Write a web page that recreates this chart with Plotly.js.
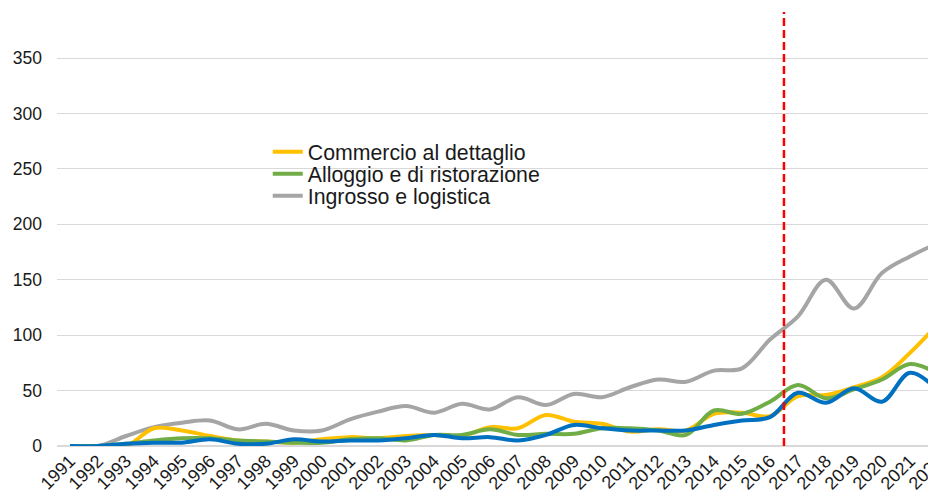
<!DOCTYPE html>
<html>
<head>
<meta charset="utf-8">
<script src="https://cdn.plot.ly/plotly-3.0.1.min.js"></script>
<style>
  html, body { margin: 0; padding: 0; overflow: hidden; background: #fff; }
  #chart { width: 960px; height: 497px; }
</style>
</head>
<body>
<div id="chart"></div>
<script>
const years = [1991,1992,1993,1994,1995,1996,1997,1998,1999,2000,2001,2002,2003,2004,2005,2006,2007,2008,2009,2010,2011,2012,2013,2014,2015,2016,2017,2018,2019,2020,2021,2022];
const yearLabels = years.map(String);

const commercio = [0,0,0,16,14,9,5,4,3,6,8,7,9,10,9,17,16,28,22,20,13,15,14,29,30,27,45,46,53,62,84,110];
const alloggio  = [0,0,2,5,7,7,5,4,3,3,6,7,5,10,10,15,10,11,11,16,16,14,10,32,29,40,55,43,51,60,74,65];
const ingrosso  = [0,0,9,17,21,23,15,20,14,14,24,31,36,30,38,33,44,37,47,44,53,60,58,68,70,96,117,150,124,156,171,183];
const altro     = [0,0,2,3,3,6,2,2,6,4,5,5,7,10,7,8,5,10,19,16,14,14,14,19,23,26,48,39,52,40,66,50];

const yTicks = [0,50,100,150,200,250,300,350];
const markerYear = 2016.5;

function line(name, y, color, legendId, show) {
  return {
    x: years, y: y, name: name, type: 'scatter', mode: 'lines',
    line: {color: color, width: 4, shape: 'spline', smoothing: 1},
    showlegend: show, legend: legendId, hoverinfo: 'x+y+name'
  };
}

const data = [
  line('Ingrosso e logistica', ingrosso, '#A5A5A5', 'legend3', true),
  line('Commercio al dettaglio', commercio, '#FFC000', 'legend', true),
  line('Alloggio e di ristorazione', alloggio, '#70AD47', 'legend2', true),
  line('Totale', altro, '#0070C0', 'legend', false)
];

const legendFont = {size: 21.3, color: '#1a1a1a', family: 'Liberation Sans, Arial, sans-serif'};
function legendAt(y) {
  return {x: 0.236, y: y, xanchor: 'left', yanchor: 'middle',
          bgcolor: 'rgba(0,0,0,0)', borderwidth: 0, font: legendFont};
}

const layout = {
  width: 960, height: 497,
  margin: {l: 57, r: 10, t: 12, b: 51},
  paper_bgcolor: '#fff', plot_bgcolor: '#fff',
  font: {family: 'Liberation Sans, Arial, sans-serif', color: '#1a1a1a'},
  showlegend: true,
  legend: legendAt(0.6774),
  legend2: legendAt(0.6267),
  legend3: legendAt(0.576),
  xaxis: {
    range: [1990.536, 2022.43],
    tickmode: 'array', tickvals: years, ticktext: yearLabels,
    tickangle: -45, tickfont: {size: 18},
    showgrid: false, zeroline: false, showline: false, ticks: ''
  },
  yaxis: {
    range: [0, 391.5],
    tickmode: 'array', tickvals: yTicks, ticktext: yTicks.map(String),
    tickfont: {size: 17.5},
    showgrid: true, gridcolor: '#D9D9D9', gridwidth: 1,
    zeroline: true, zerolinecolor: '#D9D9D9', zerolinewidth: 1.5,
    showline: false, ticks: '', ticklabelstandoff: 14
  },
  shapes: [{
    type: 'line', xref: 'x', yref: 'paper',
    x0: markerYear, x1: markerYear, y0: 0, y1: 1,
    line: {color: '#FF0000', width: 2.5, dash: '8px,4px'}
  }]
};

Plotly.newPlot('chart', data, layout, {displayModeBar: false, staticPlot: true});
</script>
</body>
</html>
